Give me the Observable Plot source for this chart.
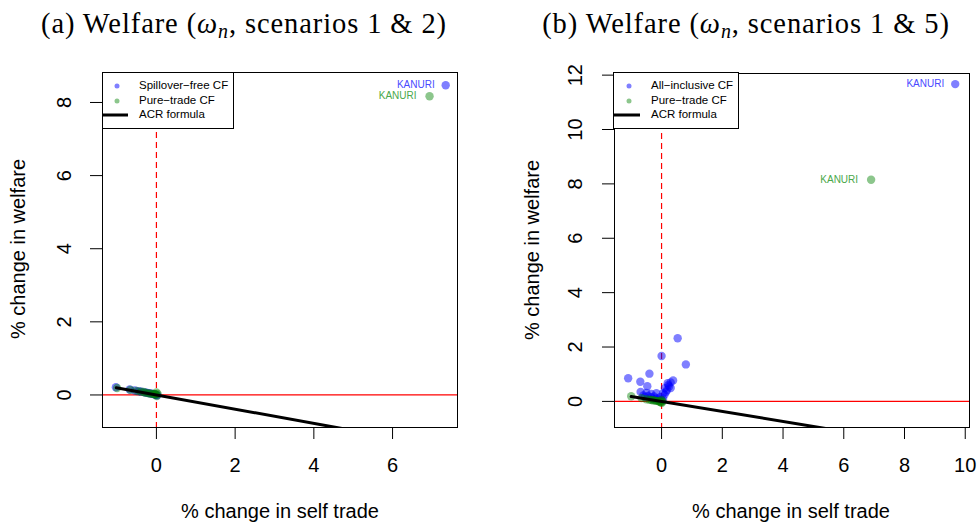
<!DOCTYPE html>
<html>
<head>
<meta charset="utf-8">
<script src="https://cdn.jsdelivr.net/npm/d3@7"></script>
<script src="https://cdn.jsdelivr.net/npm/@observablehq/plot@0.6"></script>
<style>
  html, body { margin: 0; padding: 0; background: #fff; }
  #wrap { position: relative; width: 977px; height: 523px; background: #fff; font-family: "Liberation Sans", Arial, sans-serif; color: #000; overflow: hidden; }
  .title { position: absolute; top: 10px; font-family: "Liberation Serif", "Times New Roman", serif; font-size: 28.5px; letter-spacing: 0.9px; line-height: 1; white-space: nowrap; transform: translateX(-50%); }
  .title sub { font-size: 0.7em; vertical-align: -0.25em; line-height: 0; }
  .xlab { position: absolute; font-size: 20px; line-height: 1; white-space: nowrap; transform: translate(-50%, -50%); }
  .ylab { position: absolute; font-size: 20px; line-height: 1; white-space: nowrap; transform: translate(-50%, -50%) rotate(-90deg); }
  .chart { position: absolute; top: 60px; }
  .legend { position: absolute; border: 1px solid #000; background: #fff; box-sizing: border-box; font-size: 11.5px; }
  .legend .dot { position: absolute; width: 5px; height: 5px; border-radius: 50%; transform: translate(-50%, -50%); }
  .legend .txt { position: absolute; line-height: 1; white-space: nowrap; transform: translateY(-50%); }
  .legend .ln { position: absolute; height: 3px; background: #000; transform: translateY(-50%); }
</style>
</head>
<body>
<div id="wrap">
  <div class="title" style="left:244px">(a) Welfare (<i>ω<sub>n</sub></i>, scenarios 1 &amp; 2)</div>
  <div class="title" style="left:746px">(b) Welfare (<i>ω<sub>n</sub></i>, scenarios 1 &amp; 5)</div>
  <div id="chartA" class="chart" style="left:0px"></div>
  <div id="chartB" class="chart" style="left:488px"></div>
  <div class="ylab" style="left:18px; top:249px">% change in welfare</div>
  <div class="ylab" style="left:532px; top:250px">% change in welfare</div>
  <div class="xlab" style="left:280px; top:511px">% change in self trade</div>
  <div class="xlab" style="left:791px; top:511px">% change in self trade</div>
  <div class="legend" style="left:102px; top:72px; width:132px; height:57px">
    <div class="dot" style="left:14px; top:13px; background:rgba(0,0,255,0.5)"></div>
    <div class="txt" style="left:36px; top:13px">Spillover−free CF</div>
    <div class="dot" style="left:14px; top:28px; background:rgba(0,128,0,0.45)"></div>
    <div class="txt" style="left:36px; top:28px">Pure−trade CF</div>
    <div class="ln" style="left:0px; top:42px; width:25px"></div>
    <div class="txt" style="left:36px; top:42px">ACR formula</div>
  </div>
  <div class="legend" style="left:613px; top:72px; width:126px; height:57px">
    <div class="dot" style="left:15px; top:13px; background:rgba(0,0,255,0.5)"></div>
    <div class="txt" style="left:37px; top:13px">All−inclusive CF</div>
    <div class="dot" style="left:15px; top:28px; background:rgba(0,128,0,0.45)"></div>
    <div class="txt" style="left:37px; top:28px">Pure−trade CF</div>
    <div class="ln" style="left:0px; top:42px; width:26px"></div>
    <div class="txt" style="left:37px; top:42px">ACR formula</div>
  </div>
</div>
<script>
// ---------- Panel (a): scenarios 1 & 2 ----------
const aSpilloverX = [-1.03, -0.68, -0.55, -0.45, -0.38, -0.30, -0.25, -0.20, -0.15, -0.10, -0.06, -0.03, 0.00, 0.02, 7.35];
const aSpilloverY = [0.21, 0.15, 0.12, 0.10, 0.09, 0.07, 0.06, 0.05, 0.04, 0.03, 0.02, 0.01, 0.00, -0.01, 8.47];
const aPureX = [-1.00, -0.66, -0.50, -0.40, -0.33, -0.28, -0.22, -0.17, -0.12, -0.08, -0.04, -0.02, 0.00, 0.01, 0.03, 6.94];
const aPureY = [0.19, 0.14, 0.11, 0.09, 0.08, 0.06, 0.05, 0.04, 0.03, 0.03, 0.02, 0.01, 0.07, -0.03, 0.03, 8.17];
const aAcrX = [-1.02, 7.35];
const aAcrY = [0.20, -1.43];
const aXDomain = [-1.37, 7.65];
const aYDomain = [-0.89, 8.82];
const aXTicks = [0, 2, 4, 6];
const aYTicks = [0, 2, 4, 6, 8];

// ---------- Panel (b): scenarios 1 & 5 ----------
const bAllX = [-1.10, -0.70, -0.47, -0.40, -0.69, -0.50, -0.34, -0.17, 0.05, 0.00, 0.53, 0.80, 0.38, 0.30, 0.20, 0.11, 0.30,
               -0.45, -0.35, -0.25, -0.15, -0.05, 0.10, 0.15, 0.25, -0.30, -0.20, -0.10, 0.00, 0.05, -0.60, -0.55, 0.18, 0.22, 9.67];
const bAllY = [0.85, 0.72, 0.56, 1.02, 0.35, 0.31, 0.27, 0.30, 0.30, 1.67, 2.32, 1.36, 0.77, 0.70, 0.67, 0.49, 0.49,
               0.20, 0.15, 0.18, 0.12, 0.15, 0.25, 0.35, 0.55, 0.10, 0.08, 0.06, 0.05, 0.10, 0.22, 0.16, 0.42, 0.60, 11.67];
const bPureX = [-1.00, -0.66, -0.50, -0.40, -0.33, -0.28, -0.22, -0.17, -0.12, -0.08, -0.04, -0.02, 0.00, 0.01, 0.03, 6.90];
const bPureY = [0.19, 0.12, 0.08, 0.06, 0.05, 0.04, 0.03, 0.02, 0.01, 0.00, -0.02, -0.03, 0.05, -0.05, 0.00, 8.15];
const bAcrX = [-1.00, 9.67];
const bAcrY = [0.18, -1.78];
const bXDomain = [-1.55, 10.14];
const bYDomain = [-0.96, 12.06];
const bXTicks = [0, 2, 4, 6, 8, 10];
const bYTicks = [0, 2, 4, 6, 8, 10, 12];

const labelName = "KANURI";

function pts(xs, ys) {
  return xs.map((x, i) => ({x, y: ys[i], name: i === xs.length - 1 ? labelName : ""}));
}

function panel({blueX, blueY, greenX, greenY, acrX, acrY, xDomain, yDomain, xTicks, yTicks, width, marginLeft, marginRight, marginTop, yPad, blueDx, greenDx}) {
  const blue = pts(blueX, blueY);
  const green = pts(greenX, greenY);
  const acr = pts(acrX, acrY);
  return Plot.plot({
    width, height: 463,
    marginLeft, marginRight, marginTop, marginBottom: 96,
    x: {domain: xDomain},
    y: {domain: yDomain},
    style: {fontFamily: "'Liberation Sans', Arial, sans-serif", fontSize: "20px", color: "#000", background: "transparent", overflow: "visible"},
    marks: [
      Plot.ruleY([0], {stroke: "#ff0000", strokeWidth: 1.3}),
      Plot.ruleX([0], {stroke: "#ff0000", strokeWidth: 1.2, strokeDasharray: "6,4"}),
      Plot.dot(blue, {x: "x", y: "y", r: 4.2, fill: "blue", fillOpacity: 0.5}),
      Plot.dot(green, {x: "x", y: "y", r: 4.2, fill: "green", fillOpacity: 0.45}),
      Plot.line(acr, {x: "x", y: "y", stroke: "black", strokeWidth: 3, clip: true}),
      Plot.text(blue.filter(d => d.name), {x: "x", y: "y", text: "name", textAnchor: "end", dx: blueDx, fill: "#4a4aff", fontSize: 10}),
      Plot.text(green.filter(d => d.name), {x: "x", y: "y", text: "name", textAnchor: "end", dx: greenDx, fill: "#4aa84a", fontSize: 10}),
      Plot.axisX({ticks: xTicks, tickSize: 12, tickPadding: 18, tickFormat: d => String(d), label: null}),
      Plot.axisY({ticks: yTicks, tickSize: 12, tickRotate: -90, tickPadding: yPad, tickFormat: d => String(d), label: null}),
      Plot.frame({stroke: "#000", strokeWidth: 1})
    ]
  });
}

document.getElementById("chartA").appendChild(panel({
  blueX: aSpilloverX, blueY: aSpilloverY, greenX: aPureX, greenY: aPureY,
  acrX: aAcrX, acrY: aAcrY, xDomain: aXDomain, yDomain: aYDomain,
  xTicks: aXTicks, yTicks: aYTicks,
  width: 488, marginLeft: 102, marginRight: 31, marginTop: 12, yPad: 20, blueDx: -11, greenDx: -13
}));
document.getElementById("chartB").appendChild(panel({
  blueX: bAllX, blueY: bAllY, greenX: bPureX, greenY: bPureY,
  acrX: bAcrX, acrY: bAcrY, xDomain: bXDomain, yDomain: bYDomain,
  xTicks: bXTicks, yTicks: bYTicks,
  width: 489, marginLeft: 126, marginRight: 8, marginTop: 13, yPad: 21, blueDx: -11, greenDx: -13
}));
</script>
</body>
</html>
